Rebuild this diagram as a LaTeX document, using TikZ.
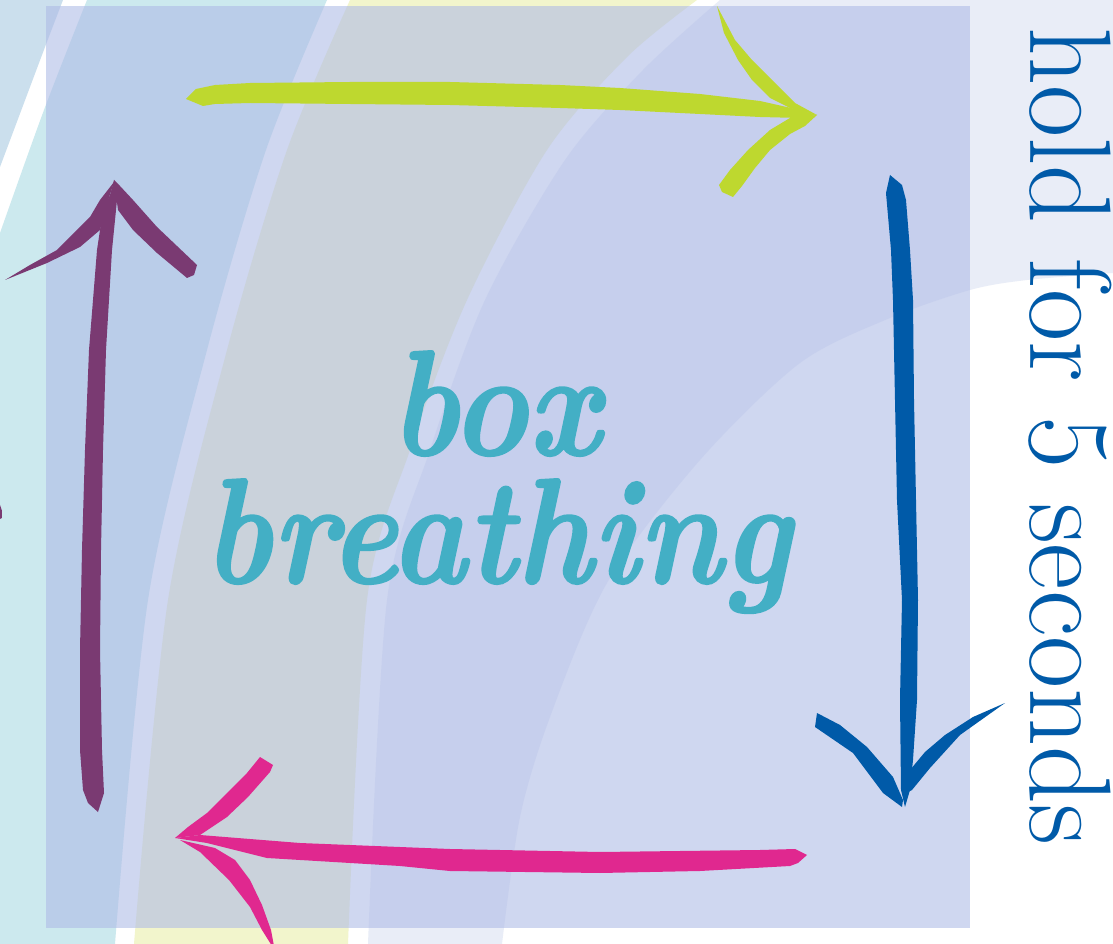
\documentclass[tikz,border=0pt]{standalone}
\usepackage{graphicx}
\usepackage{fontspec}
\usepackage{xcolor}
\usepackage{tikz}
\newfontfamily\titlefont{lmroman10-bolditalic.otf}[FakeBold=1.2]
\newfontfamily\holdfont{lmroman17-regular.otf}
\definecolor{bgblue}{RGB}{203,223,237}
\definecolor{bgcyan}{RGB}{204,233,238}
\definecolor{bgyellow}{RGB}{242,245,204}
\definecolor{bglav}{RGB}{233,237,247}
\definecolor{veil}{RGB}{174,187,230}
\definecolor{arrowlime}{RGB}{190,216,47}
\definecolor{arrowblue}{RGB}{0,90,168}
\definecolor{arrowpink}{RGB}{224,40,143}
\definecolor{arrowplum}{RGB}{122,58,114}
\definecolor{titleteal}{RGB}{67,175,197}

\begin{document}
\begin{tikzpicture}[
    x=0.025cm, y=-0.025cm,
    brush/.style={line join=round},
    square/.style={fill=veil,fill opacity=0.59},
    title/.style={anchor=base,inner sep=0pt,text=titleteal,
      font=\titlefont\fontsize{106.7}{128}\selectfont},
    holdtext/.style={anchor=base west,rotate=-90,inner sep=0pt,text=arrowblue,
      font=\holdfont\fontsize{82.5}{99}\selectfont}
  ]
    \useasboundingbox (0,0) rectangle (1113,944);
    \clip (0,0) rectangle (1113,944);

    % background bands
    \fill[white] (0,0) rectangle (1113,944);
    \fill[bgblue] (0,0) -- plot[smooth] coordinates {(63,0) (42,55) (0,167)} -- cycle;
    \fill[bgcyan] plot[smooth] coordinates {(87,0) (44,110) (0,233)} -- (0,944)
      -- plot[smooth] coordinates {(115,944) (148,600) (207,350) (266,150) (327,0)} -- cycle;
    \fill[bgyellow] plot[smooth] coordinates {(350,0) (287,150) (227,350) (168,600) (134,944)}
      -- plot[smooth] coordinates {(348,944) (367,600) (410,450) (467,300) (547,150) (627,57) (697,0)} -- cycle;
    \fill[bglav] plot[smooth] coordinates {(720,0) (643,70) (565,160) (485,300) (430,450) (387,600) (368,944)}
      -- plot[smooth] coordinates {(502,944) (520,817) (550,717) (607,583) (700,460) (800,363) (890,318) (970,290) (1027,280) (1113,273)}
      -- (1113,0) -- cycle;
    \fill[arrowplum] (0,505) -- (2,511) -- (2,518) -- (0,519) -- cycle;

    \fill[square] (46,6) rectangle (970,928);

    % right: hold
    \fill[brush,arrowlime] (186,99) -- (196,89) -- (215,85) -- (250,83) -- (350,82) -- (450,82)
      -- (560,85) -- (620,88) -- (700,94) -- (760,101) -- (800,110) -- (817,115)
      -- (800,118) -- (760,117) -- (700,114) -- (620,110) -- (560,108) -- (450,105)
      -- (350,104) -- (250,103) -- (215,104) -- (203,106) -- cycle;
    \fill[brush,arrowlime] (717,6) -- (735,40) -- (752,60) -- (775,83) -- (795,103) -- (817,115)
      -- (790,108) -- (770,98) -- (752,80) -- (738,60) -- (724,33) -- cycle;
    \fill[brush,arrowlime] (817,115) -- (805,126) -- (790,134) -- (770,150) -- (755,168)
      -- (742,186) -- (733,197) -- (722,192) -- (719,185) -- (730,170) -- (748,150)
      -- (770,130) -- (790,118) -- cycle;

    % down: exhale
    \fill[brush,arrowblue] (886,193) -- (890,175) -- (902,185) -- (906,200) -- (910,250)
      -- (913,300) -- (914,400) -- (916,500) -- (918,600) -- (917,700) -- (913,760)
      -- (910,790) -- (905,807) -- (901,790) -- (900,700) -- (902,600) -- (897,500)
      -- (895,400) -- (893,300) -- (891,250) -- cycle;
    \fill[brush,arrowblue] (817,713) -- (840,725) -- (867,747) -- (893,777) -- (903,800)
      -- (902,807) -- (883,793) -- (853,753) -- (815,727) -- cycle;
    \fill[brush,arrowblue] (1005,703) -- (973,717) -- (945,735) -- (925,752) -- (910,770)
      -- (903,795) -- (912,790) -- (930,768) -- (960,735) -- cycle;

    % left: hold
    \fill[brush,arrowpink] (807,855) -- (795,849) -- (760,850) -- (600,852) -- (450,849)
      -- (400,847) -- (300,843) -- (200,835) -- (175,838) -- (207,843) -- (267,858)
      -- (400,866) -- (450,871) -- (600,873) -- (700,871) -- (790,866) -- (798,863) -- cycle;
    \fill[brush,arrowpink] (175,838) -- (188,827) -- (207,813) -- (227,793) -- (247,773)
      -- (260,757) -- (273,765) -- (270,772) -- (248,797) -- (227,817) -- (200,835) -- cycle;
    \fill[brush,arrowpink] (180,840) -- (200,852) -- (229,880) -- (250,907) -- (262,930)
      -- (272,946) -- (274,946) -- (271,930) -- (262,905) -- (250,880) -- (235,860)
      -- (215,848) -- cycle;

    % up: inhale
    \fill[brush,arrowplum] (114,180) -- (118,190) -- (116,210) -- (112,250) -- (106,350)
      -- (103,450) -- (101,550) -- (100,650) -- (102,750) -- (104,793) -- (98,812)
      -- (88,803) -- (83,790) -- (80,750) -- (80,650) -- (82,550) -- (85,450)
      -- (89,350) -- (97,250) -- (103,210) -- (110,195) -- cycle;
    \fill[brush,arrowplum] (114,182) -- (100,200) -- (90,217) -- (57,250) -- (30,265)
      -- (5,280) -- (47,263) -- (80,247) -- (100,230) -- (105,210) -- cycle;
    \fill[brush,arrowplum] (114,180) -- (120,186) -- (133,200) -- (157,227) -- (197,265)
      -- (194,275) -- (187,278) -- (157,253) -- (133,230) -- (118,210) -- cycle;

    \node[title] (box) at (495,455) {\scalebox{0.86}[1]{box}};
    \node[title] (breath) at (497,583) {\scalebox{0.86}[1]{breathing}};
    \node[holdtext] (hold) at (1030,27) {\scalebox{0.98}[1]{hold for 5 seconds}};
  \end{tikzpicture}
\end{document}
